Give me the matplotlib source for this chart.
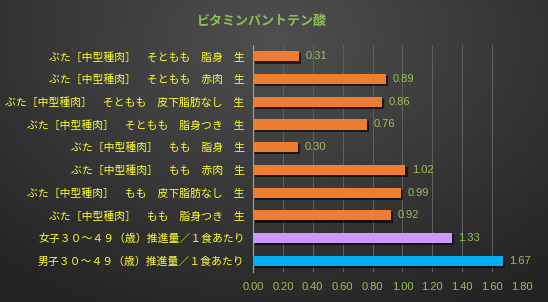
import numpy as np
import matplotlib
matplotlib.use("Agg")
import matplotlib.pyplot as plt
import matplotlib.patheffects as pe

plt.rcParams['font.family'] = ['Noto Sans CJK JP', 'DejaVu Sans']

title = "ビタミンパントテン酸"
labels = [
	"ぶた［中型種肉］　そともも　脂身　生",
	"ぶた［中型種肉］　そともも　赤肉　生",
	"ぶた［中型種肉］　そともも　皮下脂肪なし　生",
	"ぶた［中型種肉］　そともも　脂身つき　生",
	"ぶた［中型種肉］　もも　脂身　生",
	"ぶた［中型種肉］　もも　赤肉　生",
	"ぶた［中型種肉］　もも　皮下脂肪なし　生",
	"ぶた［中型種肉］　もも　脂身つき　生",
	"女子３０～４９（歳）推進量／１食あたり",
	"男子３０～４９（歳）推進量／１食あたり",
]
values = [0.31, 0.89, 0.86, 0.76, 0.30, 1.02, 0.99, 0.92, 1.33, 1.67]
colors = ["#ED7D31"] * 8 + ["#CC99FF", "#00B0F0"]
xticks = [0.0, 0.2, 0.4, 0.6, 0.8, 1.0, 1.2, 1.4, 1.6, 1.8]

green = "#9BC15A"
yellow = "#FFFF33"
num_font = "Liberation Sans"

fig = plt.figure(figsize=(5.48, 3.02), dpi=100)

# dark radial background
bg = fig.add_axes([0, 0, 1, 1], zorder=-10)
yy, xx = np.mgrid[0:302, 0:548]
r = np.sqrt(((xx - 274) / 420.0) ** 2 + ((yy - 40) / 300.0) ** 2)
shade = np.clip(0.31 - 0.17 * r, 0.14, 0.31)
bg.imshow(np.dstack([shade, shade, shade]), aspect="auto", extent=[0, 1, 0, 1])
bg.axis("off")

ax = fig.add_axes([0.4617, 0.099, 0.4909, 0.752])
ax.set_facecolor("none")
y = np.arange(len(values))
bars = ax.barh(y, values, height=0.45, color=colors, zorder=3)
for b in bars:
	b.set_path_effects([pe.SimplePatchShadow(offset=(1.5, -1.5), shadow_rgbFace="black", alpha=0.6), pe.Normal()])

for yi, v in zip(y, values):
	ax.text(v + 0.045, yi, f"{v:.2f}", color=green, fontsize=8, va="center", ha="left", family=num_font)

ax.set_xlim(0, 1.8)
ax.set_ylim(len(values) - 0.5, -0.5)
ax.set_xticks(xticks)
ax.set_xticklabels([f"{t:.2f}" for t in xticks], color=green, fontsize=8, family=num_font)
ax.set_yticks(y)
ax.set_yticklabels(labels, color=yellow, fontsize=7.8)
ax.tick_params(length=0, pad=6)
ax.tick_params(axis="x", pad=7)
ax.grid(axis="x", color="#5E5E5E", linewidth=0.8, zorder=0)
for s in ["top", "right", "bottom"]:
	ax.spines[s].set_visible(False)
ax.spines["left"].set_color("#A0A0A0")
ax.spines["left"].set_linewidth(0.8)

fig.text(0.478, 0.93, title, color="#8DC153", fontsize=9.4, fontweight="bold", ha="center", va="center")

fig.savefig("out.png", dpi=100)
